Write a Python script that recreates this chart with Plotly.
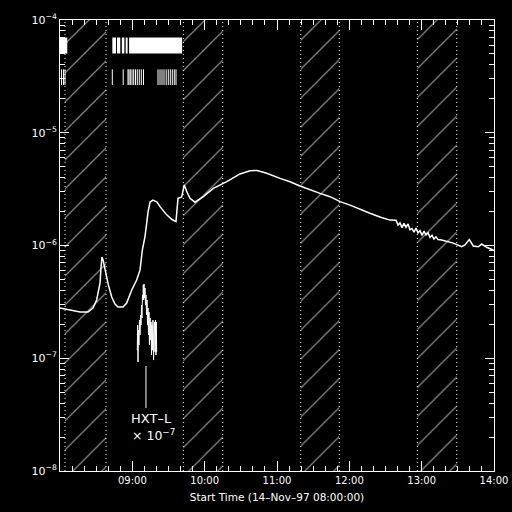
import pandas as pd
import plotly.graph_objects as go

T0 = pd.Timestamp("1997-11-14 08:00:00")

# GOES low-energy flux (minutes after 08:00, W m^-2)
goes_min = [0, 8.3, 16.6, 23.2, 27.4, 30.4, 31.8, 33.2, 34.0, 34.8,
            35.7, 37.3, 40.1, 42.9, 45.6, 48.1, 52.3, 55.3, 59.5, 63.6,
            66.4, 68.3, 69.9, 70.5, 71.9, 73.0, 74.7, 77.1, 80.5, 83.0,
            88.5, 92.9, 96.2, 97.1, 97.9, 100.9, 102.0, 103.1, 105.3, 107.8,
            112.0, 118.9, 127.2, 138.3, 149.3, 157.6, 163.4, 171.5, 182.5, 190.8,
            199.1, 207.4, 215.7, 224.0, 232.3, 240.6, 248.9, 257.1, 265.4, 273.7,
            278.7, 280.4, 282.0, 283.7, 285.3, 287.0, 288.7, 290.3, 292.0, 293.6,
            295.3, 297.0, 298.6, 300.3, 301.9, 303.6, 305.3, 306.9, 308.6, 310.2,
            311.9, 313.6,
            316.6, 326.2, 333.2, 335.9, 339.5, 342.8, 347.0, 349.8, 353.9, 360.0]
goes_flux = [2.79e-7, 2.68e-7, 2.57e-7, 2.57e-7, 2.79e-7, 3.29e-7, 3.79e-7, 4.64e-7, 6.31e-7, 7.91e-7,
             7.43e-7, 6.07e-7, 4.47e-7, 3.49e-7, 3.03e-7, 2.85e-7, 2.85e-7, 3.09e-7, 4.03e-7, 4.94e-7,
             6.07e-7, 9.12e-7, 1.12e-6, 1.20e-6, 1.57e-6, 1.98e-6, 2.43e-6, 2.53e-6, 2.43e-6, 2.21e-6,
             1.87e-6, 1.70e-6, 1.63e-6, 2.07e-6, 2.62e-6, 2.69e-6, 3.10e-6, 3.44e-6, 2.98e-6, 2.62e-6,
             2.42e-6, 2.71e-6, 3.21e-6, 3.68e-6, 4.31e-6, 4.61e-6, 4.62e-6, 4.37e-6, 3.94e-6, 3.68e-6,
             3.37e-6, 3.11e-6, 2.90e-6, 2.71e-6, 2.45e-6, 2.28e-6, 2.09e-6, 1.93e-6, 1.79e-6, 1.68e-6,
             1.673e-6, 1.517e-6, 1.586e-6, 1.441e-6, 1.570e-6, 1.453e-6, 1.551e-6, 1.380e-6, 1.415e-6, 1.310e-6,
             1.427e-6, 1.296e-6, 1.355e-6, 1.229e-6, 1.339e-6, 1.242e-6, 1.299e-6, 1.178e-6, 1.232e-6, 1.142e-6,
             1.194e-6, 1.128e-6,
             1.12e-6, 1.05e-6, 9.75e-7, 1.01e-6, 1.13e-6, 9.91e-7, 9.75e-7, 1.03e-6, 9.64e-7, 9.04e-7]

# HXT-L count rate scaled by 1e-7
hxt_min = [64.1, 64.4, 64.7, 65.1, 65.5, 65.9, 66.4, 66.8, 67.2, 67.6,
           68.0, 68.4, 68.8, 69.1, 69.4, 69.7, 70.1, 70.5, 70.9, 71.3,
           71.8, 72.2, 72.6, 73.0, 73.4, 73.8, 74.2, 74.7, 75.1, 75.5,
           75.9, 76.3, 76.7, 77.1, 77.6, 78.0, 78.4, 78.8, 79.2, 79.6,
           79.9, 80.2]
hxt_flux = [1.18e-7, 1.97e-7, 9.27e-8, 1.78e-7, 1.31e-7, 2.18e-7, 1.61e-7, 2.42e-7, 1.97e-7, 2.96e-7,
            2.28e-7, 3.64e-7, 3.29e-7, 4.47e-7, 3.29e-7, 4.56e-7, 3.42e-7, 4.20e-7, 2.96e-7, 3.64e-7,
            2.42e-7, 3.29e-7, 1.97e-7, 2.79e-7, 1.61e-7, 2.57e-7, 1.31e-7, 2.28e-7, 1.45e-7, 2.10e-7,
            1.07e-7, 1.97e-7, 1.18e-7, 2.18e-7, 9.64e-8, 1.61e-7, 2.10e-7, 1.14e-7, 2.18e-7, 1.07e-7,
            2.10e-7, 1.14e-7]

# Spacecraft night intervals (minutes after 08:00)
night_start_min = [4.15, 102.3, 199.7, 296.4]
night_end_min = [38.2, 135.0, 231.7, 329.1]

# Observation-mode markers (minutes after 08:00)
mode_bar_start_min = [0.0, 43.4, 47.3, 51.3, 54.5, 57.3]
mode_bar_end_min = [6.05, 46.5, 50.0, 53.4, 56.1, 101.3]
mode_tick_min = [1.24, 2.90, 4.15, 43.38, 52.42, 56.41, 57.24, 58.31, 59.72, 61.13,
                 62.62, 64.12, 65.78, 67.44, 69.26, 81.29, 82.95, 84.61, 86.27, 88.09,
                 89.83, 91.49, 93.15, 94.81, 96.22]

hxt_label_min = 71.3

xtick_hours = [1, 2, 3, 4, 5, 6]
xtick_labels = ["09:00", "10:00", "11:00", "12:00", "13:00", "14:00"]
ytick_vals = [1e-8, 1e-7, 1e-6, 1e-5, 1e-4]
ytick_labels = ["10<sup>−8</sup>", "10<sup>−7</sup>", "10<sup>−6</sup>",
                "10<sup>−5</sup>", "10<sup>−4</sup>"]


def tm(m):
    return T0 + pd.Timedelta(minutes=m)


FONT = "DejaVu Sans"
fig = go.Figure()

# hatched night regions
for s, e in zip(night_start_min, night_end_min):
    fig.add_trace(go.Scatter(
        x=[tm(s), tm(e), tm(e), tm(s), tm(s)],
        y=[1e-9, 1e-9, 1e-3, 1e-3, 1e-9],
        mode="lines", line=dict(width=0, color="rgba(0,0,0,0)"),
        fill="toself", fillcolor="rgba(0,0,0,0)",
        fillpattern=dict(shape="/", fgcolor="white", bgcolor="rgba(0,0,0,0)",
                         size=20.5, solidity=0.065),
        hoverinfo="skip", showlegend=False))

fig.add_trace(go.Scatter(x=[tm(m) for m in goes_min], y=goes_flux, mode="lines",
                         line=dict(color="white", width=1.5), showlegend=False))
fig.add_trace(go.Scatter(x=[tm(m) for m in hxt_min], y=hxt_flux, mode="lines",
                         line=dict(color="white", width=1), showlegend=False))

shapes = []
for s, e in zip(night_start_min, night_end_min):
    for m in (s, e):
        shapes.append(dict(type="line", xref="x", yref="paper", x0=tm(m), x1=tm(m),
                           y0=0, y1=1, line=dict(color="white", width=1, dash="1px,3px")))
for s, e in zip(mode_bar_start_min, mode_bar_end_min):
    shapes.append(dict(type="rect", xref="x", yref="paper", x0=tm(s), x1=tm(e),
                       y0=0.9257, y1=0.9612, fillcolor="white", line=dict(width=0)))
for m in mode_tick_min:
    shapes.append(dict(type="line", xref="x", yref="paper", x0=tm(m), x1=tm(m),
                       y0=0.8559, y1=0.8906, line=dict(color="white", width=1)))
shapes.append(dict(type="line", xref="x", yref="paper", x0=tm(hxt_label_min), x1=tm(hxt_label_min),
                   y0=0.1397, y1=0.2328, line=dict(color="white", width=1)))

annotations = [
    dict(x=tm(75.5), y=0.116, xref="x", yref="paper", text="HXT–L", showarrow=False,
         font=dict(family=FONT, size=13, color="white"), xanchor="center", yanchor="middle"),
    dict(x=tm(77.5), y=0.080, xref="x", yref="paper", text="× 10<sup>−7</sup>", showarrow=False,
         font=dict(family=FONT, size=12.5, color="white"), xanchor="center", yanchor="middle"),
]

x_minor = [tm(m) for m in range(10, 360, 10) if m % 60]
y_minor = [k * 10.0 ** p for p in range(-8, -4) for k in range(2, 10)]

fig.update_layout(
    width=512, height=512,
    margin=dict(l=60, r=18, t=20, b=41),
    paper_bgcolor="black", plot_bgcolor="black",
    showlegend=False,
    shapes=shapes, annotations=annotations,
    font=dict(family=FONT, color="white", size=10),
    xaxis=dict(
        type="date", range=[T0, tm(360)], automargin=False,
        tickmode="array", tickvals=[tm(60 * h) for h in xtick_hours], ticktext=xtick_labels,
        ticks="inside", ticklen=10, tickcolor="white", tickwidth=1,
        minor=dict(tickmode="array", tickvals=x_minor, ticks="inside", ticklen=5,
                   tickcolor="white", tickwidth=1, showgrid=False),
        showline=True, linecolor="white", linewidth=1, mirror="allticks",
        showgrid=False, zeroline=False,
        tickfont=dict(family=FONT, size=10, color="white"),
        title=dict(text="Start Time (14–Nov–97 08:00:00)", standoff=8,
                   font=dict(family=FONT, size=10.5, color="white")),
    ),
    yaxis=dict(
        type="log", range=[-8, -4], automargin=False,
        tickmode="array", tickvals=ytick_vals, ticktext=ytick_labels,
        ticks="inside", ticklen=9, tickcolor="white", tickwidth=1,
        minor=dict(tickmode="array", tickvals=y_minor, ticks="inside", ticklen=5,
                   tickcolor="white", tickwidth=1, showgrid=False),
        showline=True, linecolor="white", linewidth=1, mirror="allticks",
        showgrid=False, zeroline=False,
        tickfont=dict(family=FONT, size=11, color="white"),
    ),
)

fig.write_html("out.html", config={"displayModeBar": False},
               post_script="document.body.style.margin='0';document.body.style.background='black';")
